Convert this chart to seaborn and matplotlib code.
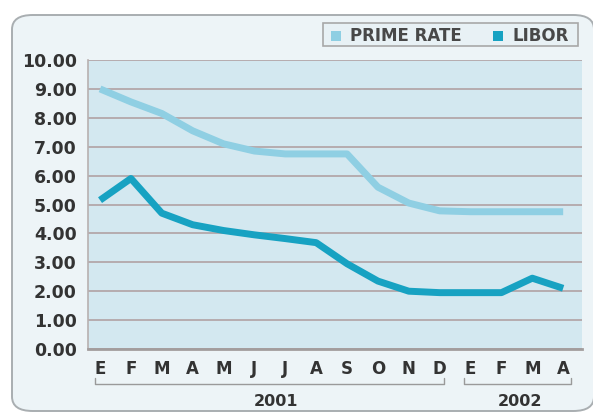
import numpy as np
import pandas as pd
import seaborn as sns
import matplotlib.pyplot as plt
from matplotlib.patches import FancyBboxPatch, Rectangle
from matplotlib.lines import Line2D
import matplotlib.transforms as mtransforms

# Monthly rates, January 2001 through April 2002 (Spanish month initials)
months = ["E", "F", "M", "A", "M", "J", "J", "A", "S", "O", "N", "D",
          "E", "F", "M", "A"]
prime_rate = [9.00, 8.55, 8.15, 7.55, 7.10, 6.85, 6.75, 6.75, 6.75,
              5.60, 5.05, 4.78, 4.75, 4.75, 4.75, 4.75]
libor = [5.15, 5.90, 4.70, 4.30, 4.10, 3.95, 3.82, 3.68, 2.95,
         2.35, 2.00, 1.95, 1.95, 1.95, 2.45, 2.10]
years = ["2001", "2002"]
y_ticks = [0, 1, 2, 3, 4, 5, 6, 7, 8, 9, 10]
series_names = ["PRIME RATE", "LIBOR"]

x = np.arange(len(months))
df = pd.DataFrame({
    "mes": np.concatenate([x, x]),
    "tasa": prime_rate + libor,
    "serie": [series_names[0]] * len(x) + [series_names[1]] * len(x),
})

sns.set_theme(style="white")
plt.rcParams["font.family"] = ["DejaVu Sans"]

W, H = 593, 412
fig = plt.figure(figsize=(W / 100, H / 100), dpi=100)
fig.patch.set_facecolor("white")

# Rounded panel behind the chart
panel = FancyBboxPatch((12 / W, 1 - 411 / H), (594 - 12) / W, (411 - 15) / H,
                       boxstyle="round,pad=0,rounding_size=0.035",
                       transform=fig.transFigure, facecolor="#edf4f7",
                       edgecolor="#a9aeb1", linewidth=1.4, zorder=-10)
fig.patches.append(panel)

ax = fig.add_axes([88 / W, 1 - 349 / H, (582 - 88) / W, (349 - 60) / H])
ax.set_facecolor("#d3e8f0")

palette = {series_names[0]: "#8fcfe3", series_names[1]: "#17a2c2"}
sns.lineplot(data=df, x="mes", y="tasa", hue="serie", palette=palette,
             linewidth=5.0, ax=ax, legend=False, sort=False,
             solid_joinstyle="round", solid_capstyle="butt")

ax.set_xlim(-0.39, 15.61)
ax.set_ylim(0, 10)
ax.set_yticks(y_ticks)
ax.set_yticklabels([f"{v:.2f}" for v in y_ticks], fontsize=12.5,
                   fontweight="bold", color="#333333")
ax.yaxis.grid(True, color="#b3a7aa", linewidth=1.3)
ax.set_axisbelow(True)
ax.tick_params(axis="y", length=0, pad=8)
ax.set_xticks(x)
ax.set_xticklabels(months, fontsize=12, fontweight="bold", color="#333333")
ax.tick_params(axis="x", length=0, pad=8)
ax.set_xlabel("")
ax.set_ylabel("")
for side in ["top", "right"]:
    ax.spines[side].set_visible(False)
ax.spines["left"].set_color("#b8b0b0")
ax.spines["left"].set_linewidth(1.2)
ax.spines["bottom"].set_color("#a29d9d")
ax.spines["bottom"].set_linewidth(2.0)

# Year brackets under the month initials
trans = mtransforms.blended_transform_factory(ax.transData, fig.transFigure)
def year_bracket(x0, x1, label, xc):
    yb = 1 - 384 / H
    yt = 1 - 378 / H
    ax.add_line(Line2D([x0, x0, x1, x1], [yt, yb, yb, yt], transform=trans,
                       color="#9a9a9a", linewidth=1.0, clip_on=False))
    fig.text(xc, 1 - 401 / H, label, transform=trans, ha="center",
             va="center", fontsize=11.5, fontweight="bold", color="#333333")

year_bracket(-0.17, 11.15, years[0], 5.7)
year_bracket(11.8, 15.25, years[1], 13.6)

# Legend box
fig.patches.append(Rectangle((323 / W, 1 - 46 / H), (578 - 323) / W, 23 / H,
                             transform=fig.transFigure, facecolor="#e8f1f5",
                             edgecolor="#a8a8a8", linewidth=1.2, zorder=2))
for (x0, name) in [(331, series_names[0]), (493, series_names[1])]:
    fig.patches.append(Rectangle((x0 / W, 1 - 41 / H), 10 / W, 10 / H,
                                 transform=fig.transFigure,
                                 facecolor=palette[name], edgecolor="none",
                                 zorder=3))
    fig.text((x0 + 19) / W, 1 - 36 / H, name, ha="left", va="center",
             fontsize=12, fontweight="bold", color="#484848", zorder=4)

fig.savefig("out.png", dpi=100, facecolor="white")
